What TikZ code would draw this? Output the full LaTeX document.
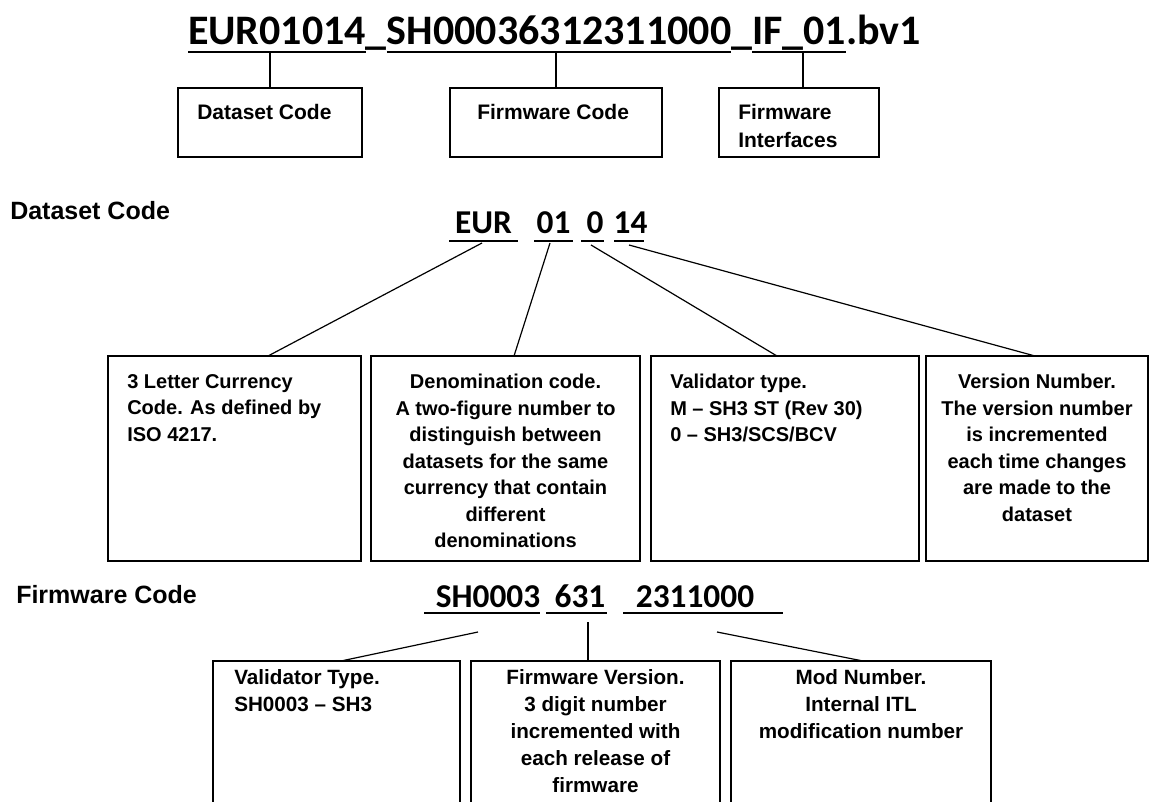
\documentclass[tikz,border=0pt]{standalone}
\usepackage{fontspec}
\setmainfont{Liberation Sans}
\newfontfamily\carlitofont{Carlito}
\usetikzlibrary{fit}
\tikzset{
  ttl/.style={font=\carlitofont\bfseries\fontsize{31.5}{31.5}\selectfont, inner sep=0pt, outer sep=0pt, anchor=base west},
  codetxt/.style={font=\carlitofont\bfseries\fontsize{25}{25}\selectfont, inner sep=0pt, outer sep=0pt, anchor=base},
  sect/.style={font=\bfseries\fontsize{18.75}{22}\selectfont, inner sep=0pt, anchor=base west},
  toplbl/.style={font=\bfseries\fontsize{15.75}{21}\selectfont, inner sep=0pt, anchor=north west, align=left},
  dtxt/.style={font=\bfseries\fontsize{15}{19.9}\selectfont, inner sep=0pt},
  ftxt/.style={font=\bfseries\fontsize{15.5}{20.3}\selectfont, inner sep=0pt},
  boxn/.style={draw, line width=1.3pt, inner sep=0pt, outer sep=0pt},
  conn/.style={line width=0.9pt},
  uline/.style={line width=1.7pt},
}
\begin{document}
\begin{tikzpicture}[x=0.75pt, y=-0.75pt]
\useasboundingbox[fill=white] (0,0) rectangle (1150,802);

% ---- title ----
\node[ttl] (t1) at (188,45) {EUR01014};
\node[ttl] (t2) at (t1.base east) {\_};
\node[ttl] (t3) at (t2.base east) {SH00036312311000};
\node[ttl] (t4) at (t3.base east) {\_};
\node[ttl] (t5) at (t4.base east) {IF\_01};
\node[ttl] (t6) at (t5.base east) {.bv1};
\draw[uline] (t1.west |- 0,52) -- (t1.east |- 0,52);
\draw[uline] (t3.west |- 0,52) -- (t3.east |- 0,52);
\draw[uline] (t5.west |- 0,52) -- (t5.east |- 0,52);

% ---- top boxes ----
\node[boxn, fit={(178,88) (362,157)}] (dbox) {};
\node[boxn, fit={(450,88) (662,157)}] (fbox) {};
\node[boxn, fit={(719,88) (879,157)}] (ibox) {};
\node[toplbl] (dlbl) at (197,104) {Dataset Code};
\node[toplbl] (flbl) at (477,104) {Firmware Code};
\node[toplbl] (ilbl) at (738,104) {Firmware\\Interfaces};
\coordinate (u1) at (270,53);
\coordinate (u2) at (556,53);
\coordinate (u3) at (803,53);
\draw[conn] (u1) -- (u1 |- dbox.north);
\draw[conn] (u2) -- (u2 |- fbox.north);
\draw[conn] (u3) -- (u3 |- ibox.north);

% ---- Dataset Code ----
\node[sect] (dsect) at (10,220) {Dataset Code};
\node[codetxt] (c1) at (483.5,234) {EUR};
\node[codetxt] (c2) at (553.5,234) {01};
\node[codetxt] (c3) at (595,234) {0};
\node[codetxt] (c4) at (630.5,234) {14};
\draw[uline] (449,241) -- (518,241);
\draw[uline] (534,241) -- (573,241);
\draw[uline] (581,241) -- (604,241);
\draw[uline] (614,241) -- (644,241);

\node[boxn, fit={(108,356) (361,561)}] (d1) {};
\node[boxn, fit={(371,356) (640,561)}] (d2) {};
\node[boxn, fit={(651,356) (919,561)}] (d3) {};
\node[boxn, fit={(926,356) (1148,561)}] (d4) {};

\node[dtxt, anchor=north west, align=left] (d1t) at (127,374) {3 Letter Currency\\Code. As defined by\\ISO 4217.};
\node[dtxt, anchor=north, align=center] (d2t) at (505.5,374) {Denomination code.\\A two-figure number to\\distinguish between\\datasets for the same\\currency that contain\\different\\denominations};
\node[dtxt, anchor=north west, align=left] (d3t) at (670,374) {Validator type.\\M – SH3 ST (Rev 30)\\0 – SH3/SCS/BCV};
\node[dtxt, anchor=north, align=center] (d4t) at (1037,374) {Version Number.\\The version number\\is incremented\\each time changes\\are made to the\\dataset};

\coordinate (s1) at (482,243);
\coordinate (s2) at (550,243);
\coordinate (s3) at (591,245);
\coordinate (s4) at (629,245);
\coordinate (e1) at (268,356);
\coordinate (e2) at (514,356);
\coordinate (e3) at (777,356);
\coordinate (e4) at (1035,356);
\draw[conn] (s1) -- (e1);
\draw[conn] (s2) -- (e2);
\draw[conn] (s3) -- (e3);
\draw[conn] (s4) -- (e4);

% ---- Firmware Code ----
\node[sect] (fsect) at (16,603) {Firmware Code};
\node[codetxt] (g1) at (488,607) {SH0003};
\node[codetxt] (g2) at (580,607) {631};
\node[codetxt] (g3) at (695,607) {2311000};
\draw[uline] (424,613) -- (540,613);
\draw[uline] (546,613) -- (607,613);
\draw[uline] (623,613) -- (783,613);

\node[boxn, fit={(213,661) (460,815)}] (f1) {};
\node[boxn, fit={(471,661) (720,815)}] (f2) {};
\node[boxn, fit={(731,661) (991,815)}] (f3) {};

\node[ftxt, anchor=north west, align=left] (f1t) at (234,669) {Validator Type.\\SH0003 – SH3};
\node[ftxt, anchor=north, align=center] (f2t) at (595.5,669) {Firmware Version.\\3 digit number\\incremented with\\each release of\\firmware};
\node[ftxt, anchor=north, align=center] (f3t) at (861,669) {Mod Number.\\Internal ITL\\modification number};

\coordinate (p1) at (478,632);
\coordinate (p2) at (588,622);
\coordinate (p3) at (717,632);
\coordinate (q1) at (341,661);
\coordinate (q2) at (588,661);
\coordinate (q3) at (863,661);
\draw[conn] (p1) -- (q1);
\draw[conn] (p2) -- (q2);
\draw[conn] (p3) -- (q3);
\end{tikzpicture}
\end{document}
